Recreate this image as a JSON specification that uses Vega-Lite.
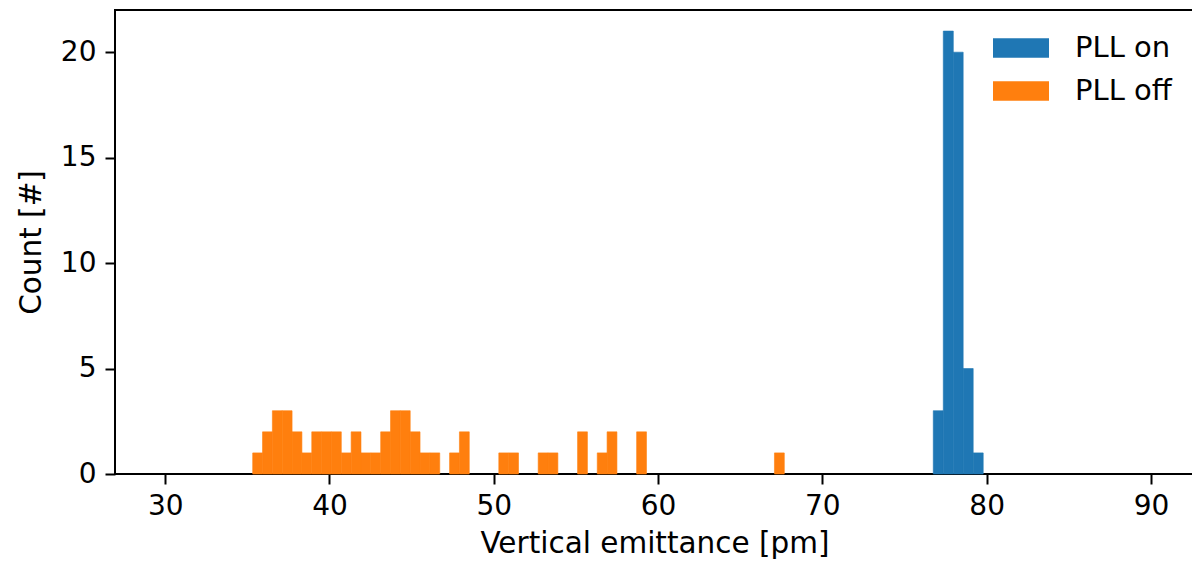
{
  "$schema": "https://vega.github.io/schema/vega-lite/v6.json",
  "width": 1079,
  "height": 464,
  "autosize": {"type": "none"},
  "padding": {"left": 115, "top": 10, "right": 0, "bottom": 89},
  "background": "white",
  "config": {
    "font": "DejaVu Sans",
    "view": {"stroke": "black", "strokeWidth": 2},
    "axis": {
      "domain": false,
      "grid": false,
      "tickColor": "black",
      "tickWidth": 2,
      "tickSize": 10,
      "labelFont": "DejaVu Sans",
      "labelFontSize": 28,
      "labelColor": "black",
      "titleFont": "DejaVu Sans",
      "titleFontSize": 29.5,
      "titleFontWeight": "normal",
      "titleColor": "black"
    },
    "legend": {
      "labelFont": "DejaVu Sans",
      "labelFontSize": 29,
      "labelColor": "black",
      "padding": 0
    }
  },
  "data": {
    "values": [
      {"start": 76.75, "end": 77.36, "count": 3, "series": "PLL on"},
      {"start": 77.36, "end": 77.97, "count": 21, "series": "PLL on"},
      {"start": 77.97, "end": 78.57, "count": 20, "series": "PLL on"},
      {"start": 78.57, "end": 79.18, "count": 5, "series": "PLL on"},
      {"start": 79.18, "end": 79.79, "count": 1, "series": "PLL on"},
      {"start": 35.326, "end": 35.925, "count": 1, "series": "PLL off"},
      {"start": 35.925, "end": 36.524, "count": 2, "series": "PLL off"},
      {"start": 36.524, "end": 37.124, "count": 3, "series": "PLL off"},
      {"start": 37.124, "end": 37.723, "count": 3, "series": "PLL off"},
      {"start": 37.723, "end": 38.322, "count": 2, "series": "PLL off"},
      {"start": 38.322, "end": 38.921, "count": 1, "series": "PLL off"},
      {"start": 38.921, "end": 39.52, "count": 2, "series": "PLL off"},
      {"start": 39.52, "end": 40.12, "count": 2, "series": "PLL off"},
      {"start": 40.12, "end": 40.719, "count": 2, "series": "PLL off"},
      {"start": 40.719, "end": 41.318, "count": 1, "series": "PLL off"},
      {"start": 41.318, "end": 41.917, "count": 2, "series": "PLL off"},
      {"start": 41.917, "end": 42.516, "count": 1, "series": "PLL off"},
      {"start": 42.516, "end": 43.116, "count": 1, "series": "PLL off"},
      {"start": 43.116, "end": 43.715, "count": 2, "series": "PLL off"},
      {"start": 43.715, "end": 44.314, "count": 3, "series": "PLL off"},
      {"start": 44.314, "end": 44.913, "count": 3, "series": "PLL off"},
      {"start": 44.913, "end": 45.512, "count": 2, "series": "PLL off"},
      {"start": 45.512, "end": 46.112, "count": 1, "series": "PLL off"},
      {"start": 46.112, "end": 46.711, "count": 1, "series": "PLL off"},
      {"start": 47.31, "end": 47.909, "count": 1, "series": "PLL off"},
      {"start": 47.909, "end": 48.508, "count": 2, "series": "PLL off"},
      {"start": 50.306, "end": 50.905, "count": 1, "series": "PLL off"},
      {"start": 50.905, "end": 51.504, "count": 1, "series": "PLL off"},
      {"start": 52.703, "end": 53.302, "count": 1, "series": "PLL off"},
      {"start": 53.302, "end": 53.901, "count": 1, "series": "PLL off"},
      {"start": 55.1, "end": 55.699, "count": 2, "series": "PLL off"},
      {"start": 56.298, "end": 56.897, "count": 1, "series": "PLL off"},
      {"start": 56.897, "end": 57.496, "count": 2, "series": "PLL off"},
      {"start": 58.695, "end": 59.294, "count": 2, "series": "PLL off"},
      {"start": 67.084, "end": 67.683, "count": 1, "series": "PLL off"}
    ]
  },
  "mark": {"type": "bar", "strokeWidth": 0.6},
  "encoding": {
    "x": {
      "field": "start",
      "type": "quantitative",
      "scale": {"domain": [26.945, 92.62], "nice": false, "zero": false},
      "axis": {
        "values": [30, 40, 50, 60, 70, 80, 90],
        "title": "Vertical emittance [pm]",
        "labelPadding": 8,
        "titlePadding": 9
      }
    },
    "x2": {"field": "end"},
    "y": {
      "field": "count",
      "type": "quantitative",
      "scale": {"domain": [0, 22], "nice": false},
      "axis": {
        "values": [0, 5, 10, 15, 20],
        "title": "Count [#]",
        "labelPadding": 9,
        "titlePadding": 14
      }
    },
    "y2": {"datum": 0},
    "color": {
      "field": "series",
      "type": "nominal",
      "scale": {"domain": ["PLL on", "PLL off"], "range": ["#1f77b4", "#ff7f0e"]},
      "legend": {
        "title": null,
        "orient": "none",
        "legendX": 878,
        "legendY": 10,
        "symbolType": "M-1,-0.35H1V0.35H-1Z",
        "symbolSize": 3136,
        "symbolStrokeWidth": 0,
        "symbolOffset": 0,
        "labelOffset": 26,
        "rowPadding": -13
      }
    },
    "stroke": {
      "field": "series",
      "type": "nominal",
      "scale": {"domain": ["PLL on", "PLL off"], "range": ["#1f77b4", "#ff7f0e"]},
      "legend": null
    }
  }
}
